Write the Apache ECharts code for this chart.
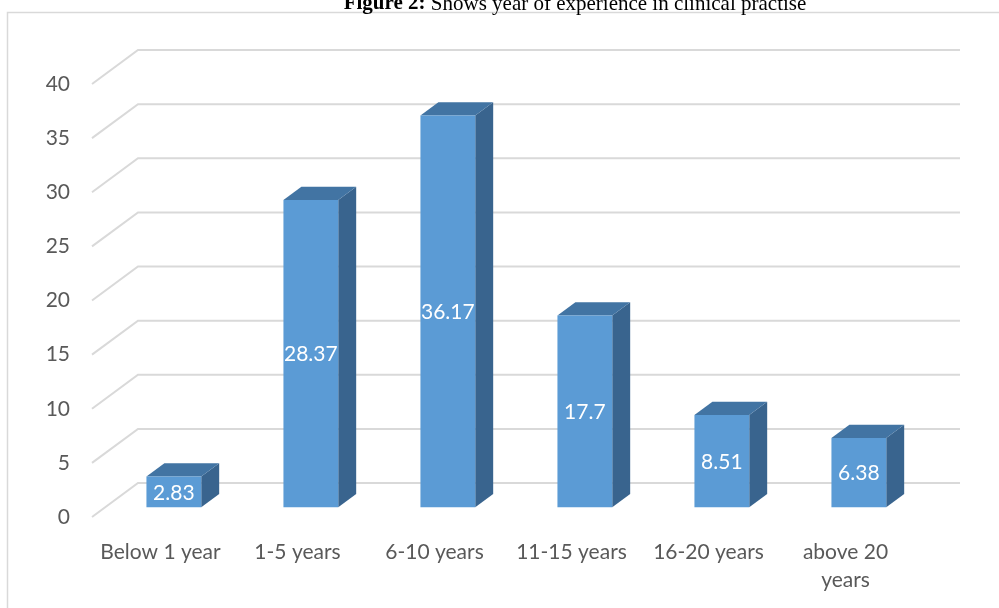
<!DOCTYPE html>
<html>
<head>
<meta charset="utf-8">
<style>
  html, body { margin: 0; padding: 0; background: #fff; }
  #chart { width: 999px; height: 608px; }
</style>
<script src="https://cdn.jsdelivr.net/npm/echarts@6/dist/echarts.min.js"></script>
</head>
<body>
<div id="chart"></div>
<script>
// Years of clinical experience (percent of respondents)
const categories = ['Below 1 year', '1-5 years', '6-10 years', '11-15 years', '16-20 years', 'above 20 years'];
const percentages = [2.83, 28.37, 36.17, 17.7, 8.51, 6.38];
const yTicks = [0, 5, 10, 15, 20, 25, 30, 35, 40];

// Oblique depth of the floor (front edge -> back wall), in pixels
const FLOOR_DX = 46, FLOOR_DY = -34;
// Bars occupy a slab inside the floor depth
const BAR_FRONT_T = 0.29, BAR_DEPTH_T = 0.39;
const BAR_WIDTH_FRAC = 0.4;

const FRONT = '#5B9BD5', TOP = '#4274A3', SIDE = '#39648E';
const GRID_COLOR = '#D9D9D9';
const FONT = 'Lato, "Open Sans", sans-serif';

const chart = echarts.init(document.getElementById('chart'), null, { renderer: 'canvas' });

function renderGridLine(params, api) {
  const cs = params.coordSys;
  const p = api.coord([0, api.value(0)]);
  const y = p[1];
  const x0 = cs.x;
  const x1 = cs.x + cs.width;
  return {
    type: 'polyline',
    shape: { points: [[x0, y], [x0 + FLOOR_DX, y + FLOOR_DY], [x1 + FLOOR_DX, y + FLOOR_DY]] },
    style: { stroke: GRID_COLOR, lineWidth: 2, fill: null },
    silent: true
  };
}

function renderBar(params, api) {
  const idx = api.value(0);
  const val = api.value(1);
  const base = api.coord([idx, 0]);
  const topPt = api.coord([idx, val]);
  const band = api.size([1, 0])[0];
  const w = band * BAR_WIDTH_FRAC;
  const ox = FLOOR_DX * BAR_FRONT_T, oy = FLOOR_DY * BAR_FRONT_T;
  const dx = FLOOR_DX * BAR_DEPTH_T, dy = FLOOR_DY * BAR_DEPTH_T;
  const xl = base[0] - w / 2 + ox, xr = base[0] + w / 2 + ox;
  const yb = base[1] + oy, yt = topPt[1] + oy;
  return {
    type: 'group',
    children: [
      { type: 'polygon', shape: { points: [[xr, yt], [xr + dx, yt + dy], [xr + dx, yb + dy], [xr, yb]] },
        style: { fill: SIDE } },
      { type: 'polygon', shape: { points: [[xl, yt], [xl + dx, yt + dy], [xr + dx, yt + dy], [xr, yt]] },
        style: { fill: TOP } },
      { type: 'rect', shape: { x: xl, y: yt, width: xr - xl, height: yb - yt },
        style: { fill: FRONT } },
      { type: 'text', style: {
          text: String(val), x: (xl + xr) / 2, y: (yt + yb) / 2 + 1,
          align: 'center', verticalAlign: 'middle',
          fill: '#fff', font: '21px ' + FONT } }
    ]
  };
}

chart.setOption({
  animation: false,
  backgroundColor: '#fff',
  graphic: [
    { type: 'rect', shape: { x: 7.5, y: 12.5, width: 1200, height: 1000 },
      style: { fill: null, stroke: GRID_COLOR, lineWidth: 1.5 }, z: -10, silent: true },
    { type: 'text', x: 575, y: 4,
      style: {
        text: '{b|Figure 2:} Shows year of experience in clinical practise',
        align: 'center', verticalAlign: 'middle',
        rich: {
          b: { font: 'bold 21px "Liberation Serif", "Times New Roman", serif', fill: '#000' }
        },
        font: '21px "Liberation Serif", "Times New Roman", serif', fill: '#000'
      } }
  ],
  grid: { left: 92, right: 85, top: 84, bottom: 91, outerBoundsMode: 'none' },
  xAxis: {
    type: 'category',
    data: categories,
    axisLine: { show: false },
    axisTick: { show: false },
    splitLine: { show: false },
    axisLabel: {
      margin: 21, interval: 0,
      color: '#595959', fontSize: 21, fontFamily: FONT, lineHeight: 28,
      formatter: (v) => v === 'above 20 years' ? 'above 20\nyears' : v
    }
  },
  yAxis: {
    type: 'value',
    min: 0, max: 40, interval: 5,
    axisLine: { show: false },
    axisTick: { show: false },
    splitLine: { show: false },
    axisLabel: { margin: 22, color: '#595959', fontSize: 21, fontFamily: FONT }
  },
  series: [
    {
      type: 'custom',
      renderItem: renderGridLine,
      data: yTicks.map(v => [v]),
      encode: { y: 0 },
      z: 1, silent: true
    },
    {
      type: 'custom',
      renderItem: renderBar,
      data: percentages.map((v, i) => [i, v]),
      encode: { x: 0, y: 1 },
      z: 2
    }
  ]
});
</script>
</body>
</html>
